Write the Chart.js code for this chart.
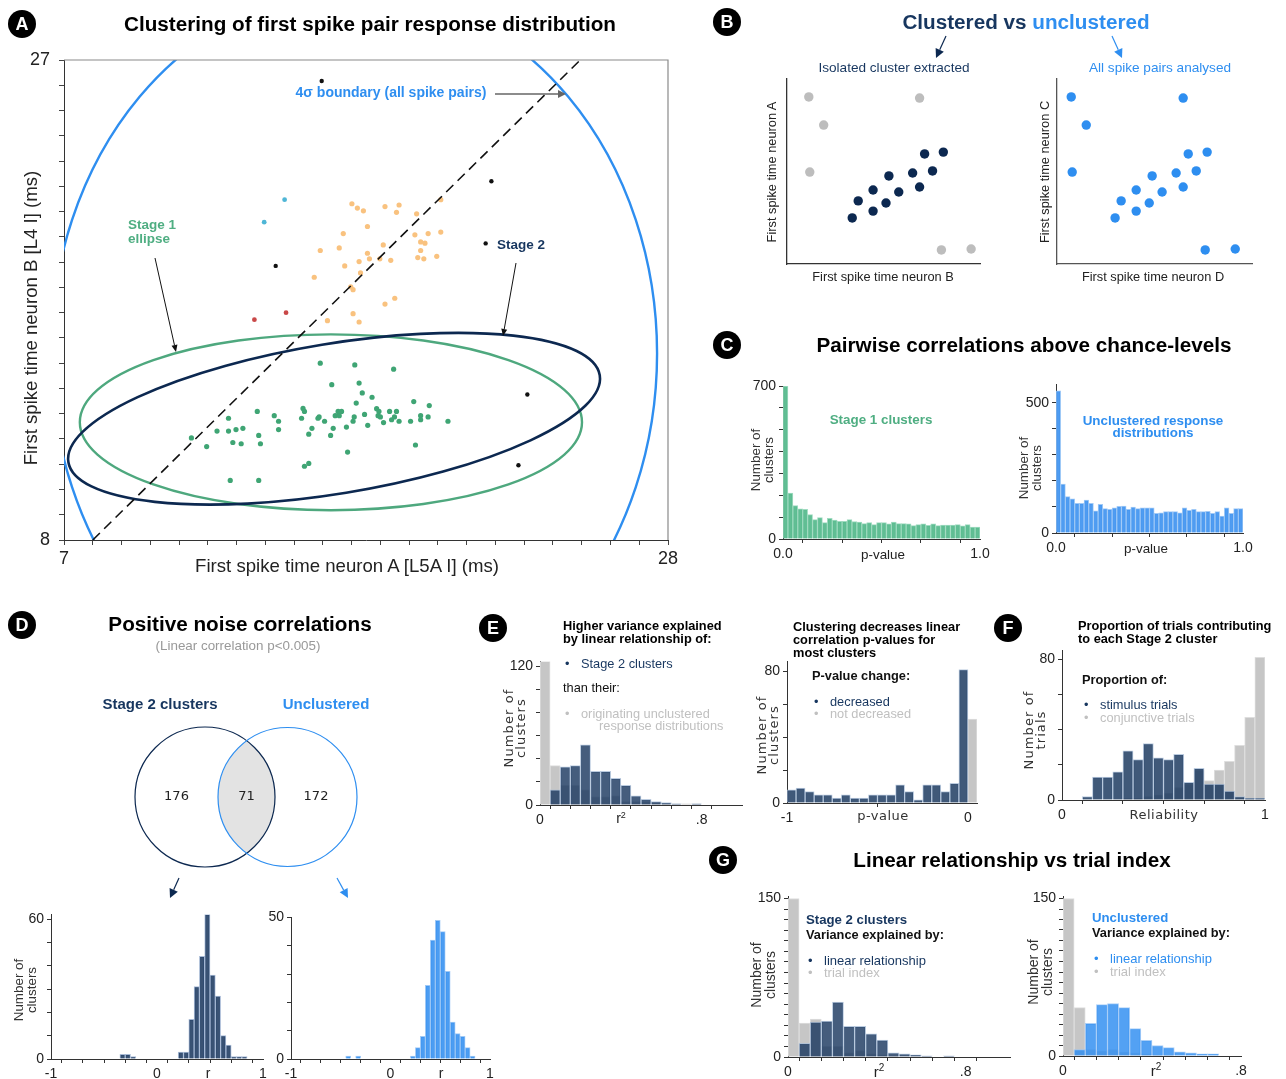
<!DOCTYPE html>
<html>
<head>
<meta charset="utf-8">
<script src="https://cdn.jsdelivr.net/npm/chart.js@4.4.1/dist/chart.umd.min.js"></script>
<style>
  body { margin: 0; background: #fff; }
  #stage { position: relative; width: 1286px; height: 1079px; overflow: hidden; font-family: "Liberation Sans", Arial, sans-serif; color: #222; }
  .t { position: absolute; white-space: nowrap; line-height: 1; z-index: 5; }
  .c { transform: translate(-50%, -50%); }
  .l { transform: translate(0, -50%); }
  .rot { transform: translate(-50%, -50%) rotate(-90deg); text-align: center; }
  .head { font-size: 20.7px; font-weight: bold; color: #000; }
  .sub { font-size: 12.8px; font-weight: bold; color: #000; line-height: 13px; }
  .letter { position: absolute; width: 28px; height: 28px; border-radius: 50%; background: #000; color: #fff;
            font-weight: bold; font-size: 18px; display: flex; align-items: center; justify-content: center;
            transform: translate(-50%, -50%); z-index: 5; }
  .dv { font-family: "DejaVu Sans", sans-serif; letter-spacing: 1.1px; font-size: 13px; color: #333; line-height: 12px; }
  canvas { position: absolute; }
  svg { position: absolute; left: 0; top: 0; z-index: 4; }
</style>
</head>
<body>
<div id="stage"></div>
<script>
// colours
const NAVY = "#0c2850"
const NAVY_TXT = "#17365f"
const BLUE = "#2e8ef0"
const GRAY_TXT = "#c0c0c0"

// ---------- Panel A data (first spike times, ms) ----------
const stage1Points = [[15.91,15.00],[17.11,14.93],[18.46,14.76],[16.31,14.15],[17.26,14.21],[17.37,13.82],[17.71,13.65],[19.16,13.48],[17.16,13.42],[19.70,13.32],[13.72,13.09],[15.31,13.21],[15.36,13.09],[16.53,13.09],[16.65,13.09],[17.87,13.20],[17.95,13.09],[18.32,13.09],[18.56,13.09],[14.31,12.92],[15.26,12.82],[15.83,12.82],[15.87,12.87],[16.43,12.92],[16.57,12.92],[17.45,12.97],[17.92,12.92],[18.00,12.87],[18.49,12.87],[19.40,12.92],[19.66,12.87],[12.72,12.82],[14.46,12.70],[16.06,12.70],[17.05,12.70],[17.09,12.87],[18.11,12.65],[18.39,12.76],[18.65,12.70],[19.05,12.70],[19.40,12.76],[20.35,12.70],[13.22,12.42],[12.98,12.37],[12.72,12.31],[12.32,12.31],[14.46,12.37],[15.62,12.42],[16.36,12.42],[16.82,12.47],[17.56,12.54],[11.43,12.04],[13.77,12.14],[15.51,12.19],[16.27,12.14],[11.96,11.70],[12.87,11.86],[13.16,11.81],[13.83,11.81],[19.22,11.76],[16.86,11.48],[15.36,10.92],[15.51,11.03],[12.78,10.36],[13.77,10.36]]
const otherClusterPoints = [[17.01,21.31],[17.20,21.14],[17.41,21.03],[18.16,21.20],[18.65,21.26],[18.56,20.97],[20.10,21.47],[19.26,20.91],[17.55,20.41],[16.71,20.13],[19.20,20.08],[19.66,20.13],[20.10,20.19],[19.40,19.80],[19.55,19.75],[18.10,19.68],[16.57,19.56],[15.91,19.46],[19.40,19.46],[17.55,19.35],[17.62,19.13],[17.26,19.02],[17.98,19.13],[18.36,19.07],[19.30,19.18],[19.51,19.13],[19.96,19.23],[16.76,18.85],[17.31,18.57],[15.70,18.40],[16.97,18.02],[17.05,17.91],[18.50,17.57],[18.16,17.34],[17.05,16.96],[16.16,16.68],[17.26,16.63]]
const outlierPoints = [[15.96,26.17],[21.86,22.20],[21.66,19.74],[14.36,18.85],[23.11,13.76],[22.80,10.96]]
const cyanPoints = [[14.67,21.47],[13.96,20.58]]
const redPoints = [[14.72,17.00],[13.62,16.72]]
const diagonal = [[8, 8], [24.95, 27]]
// ellipses: centre, radii (data units), rotation (deg on screen)
const boundaryEllipse = { cx: 17.08, cy: 15.38, rx: 10.54, ry: 14.37, rot: 0 }
const stage1Ellipse = { cx: 16.28, cy: 12.66, rx: 8.73, ry: 3.48, rot: 0 }
const stage2Ellipse = { cx: 16.39, cy: 12.8, rx: 9.36, ry: 2.97, rot: -9.3 }
const aTicksX = [7,8,9,10,11,12,13,14,15,16,17,18,19,20,21,22,23,24,25,26,27,28]
const aTicksY = [8,9,10,11,12,13,14,15,16,17,18,19,20,21,22,23,24,25,26,27]

// ---------- Panel B data ----------
const bOutX = [1.13, 1.90, 1.18, 6.87, 8.00, 9.54]
const bOutY = [9.03, 7.51, 4.97, 8.97, 0.76, 0.81]
const bClusterX = [3.38, 3.69, 4.46, 4.46, 5.13, 5.28, 5.79, 6.51, 6.87, 7.13, 7.54, 8.10]
const bClusterY = [2.49, 3.41, 2.86, 4.00, 3.30, 4.76, 3.89, 4.92, 4.16, 5.95, 5.03, 6.05]

// ---------- Panel C data (p-value histograms, 40 bins 0..1) ----------
const stage1PCounts = [700,210,153,138,136,112,89,98,75,95,86,81,81,89,80,77,70,75,66,75,75,69,77,70,70,69,61,66,69,63,69,61,64,64,64,66,60,66,55,54]
const unclusteredPCounts = [547,188,140,131,114,114,127,114,85,110,94,91,97,103,104,91,100,94,97,97,97,76,78,82,82,82,78,97,87,91,82,82,83,76,82,65,97,76,94,94]
const pTicks = [0, 0.2, 0.4, 0.6, 0.8, 1]
const pTickText = ["0.0", "", "", "", "", "1.0"]

// ---------- Panel D data ----------
const vennCounts = [176, 71, 172]
const stage2RCounts = [0,0,0,0,0,0,0,0,0,0,0,0,0,2,2,1,0,0,0,0,0,0,0,0,3,3,17,31,44,62,36,27,10,6,1,1,1,0,0,0]
const unclRCounts = [0,0,0,0,0,0,0,0,0,0,0,1,0,1,0,0,0,0,0,0,0,0,0,0,1,4,8,26,42,49,45,31,13,9,8,4,1,0,0,0]
const rTicks = [-1,-0.8,-0.6,-0.4,-0.2,0,0.2,0.4,0.6,0.8,1]
const rTickText = ["-1","","","","","0","","","","","1"]

// ---------- Panel E data ----------
const eStage2R2 = [0,13,33,34,52,29,29,23,17,8,5,3,2,1,0,1,0,0,0,0]
const eOrigR2 = [124,34,17,17,13,7,7,8,3,3,3,2,1,0,1,0,0,0,0,0]
const pChangeDecreased = [8,9,7,5,5,3,5,3,3,5,5,5,11,7,2,11,11,7,12,81]
const pChangeNotDecreased = [51]

// ---------- Panel F data ----------
const stimulusTrials = [0,0,2,13,13,16,28,23,32,24,23,26,10,18,9,9,5,2,1,1]
const conjunctiveTrials = [0,0,0,0,0,0,1,1,2,3,4,7,9,17,11,17,22,31,47,81]

// ---------- Panel G data ----------
const gStage2Linear = [0,13,33,34,52,29,29,22,16,4,3,2,1,0,1,0,0,0,0,0]
const gStage2Trial = [150,32,36,10,10,4,6,3,2,1,0,0,0,0,0,0,0,0,0,0]
const gUnclLinear = [0,6,31,49,50,46,26,15,10,8,4,3,2,2,0,0]
const gUnclTrial = [150,46,6,5,6,4,3,2,1,1,0,0,0,0,0,0]
const r2Ticks = [0,0.1,0.2,0.3,0.4,0.5,0.6,0.7,0.8]
const r2TickText = ["0","","","","","","","",".8"]

Chart.defaults.font.family = "'Liberation Sans', Arial, sans-serif"
Chart.defaults.color = "#222"

const stage = document.getElementById("stage")
const pairs = (a) => a.map(([x, y]) => ({ x, y }))
const zip = (xs, ys) => xs.map((x, i) => ({ x, y: ys[i] }))
const hist = (start, width, counts) => counts.map((c, i) => ({ x: start + width * (i + 0.5), y: c }))

// linear axis with explicit tick list and forced thickness
function axis(min, max, ticks, text, size, fontSize, extra) {
  return Object.assign({
    type: "linear",
    min,
    max,
    offset: false,
    grid: { display: true, drawOnChartArea: false, drawTicks: true, tickLength: 4, color: "#333" },
    border: { display: true, color: "#333", width: 1 },
    afterBuildTicks: (s) => { s.ticks = ticks.map((v) => ({ value: v })) },
    ticks: { autoSkip: false, maxRotation: 0, padding: 3, font: { size: fontSize }, color: "#222", callback: (v, i) => text[i] },
    afterFit: (s) => { if (s.isHorizontal()) s.height = size; else s.width = size },
  }, extra || {})
}

// place a canvas so the chart area lands on box [l, t, r, b]
function mount(box, m, config) {
  const c = document.createElement("canvas")
  const w = box[2] - box[0] + m[0] + m[2]
  const h = box[3] - box[1] + m[1] + m[3]
  c.width = w
  c.height = h
  c.style.cssText = `left:${box[0] - m[0]}px;top:${box[1] - m[1]}px;width:${w}px;height:${h}px`
  stage.appendChild(c)
  config.options = Object.assign({
    responsive: false,
    animation: false,
    devicePixelRatio: 1,
    events: [],
    layout: { padding: { left: 0, top: m[1], right: m[2], bottom: 0 } },
  }, config.options)
  config.options.plugins = Object.assign({ legend: { display: false }, tooltip: { enabled: false } }, config.options.plugins || {})
  return new Chart(c, config)
}

function bars(data, color, border) {
  return { type: "bar", data, backgroundColor: color, borderColor: border, borderWidth: 1, grouped: false,
           barPercentage: 1, categoryPercentage: 1, borderSkipped: "start" }
}

// ---------- Panel A ----------
const ellipsePlugin = {
  id: "ellipses",
  beforeDatasetsDraw(chart) {
    const { ctx, chartArea: a, scales: { x, y } } = chart
    const list = [[boundaryEllipse, BLUE, 2.4], [stage1Ellipse, "#4ea87e", 2.4], [stage2Ellipse, NAVY, 2.6]]
    ctx.save()
    ctx.beginPath()
    ctx.rect(a.left, a.top, a.width, a.height)
    ctx.clip()
    list.forEach(([e, color, lw]) => {
      const cx = x.getPixelForValue(e.cx)
      const cy = y.getPixelForValue(e.cy)
      const rx = Math.abs(x.getPixelForValue(e.cx + e.rx) - cx)
      const ry = Math.abs(y.getPixelForValue(e.cy + e.ry) - cy)
      ctx.beginPath()
      ctx.ellipse(cx, cy, rx, ry, (e.rot * Math.PI) / 180, 0, Math.PI * 2)
      ctx.strokeStyle = color
      ctx.lineWidth = lw
      ctx.stroke()
    })
    ctx.restore()
  },
  afterDraw(chart) {
    const { ctx, chartArea: a } = chart
    ctx.save()
    ctx.strokeStyle = "#8a8a8a"
    ctx.lineWidth = 1.2
    ctx.beginPath()
    ctx.moveTo(a.left, a.top)
    ctx.lineTo(a.right, a.top)
    ctx.lineTo(a.right, a.bottom)
    ctx.stroke()
    ctx.restore()
  },
}

const dot = (data, color, r) => ({ data: pairs(data), backgroundColor: color, borderWidth: 0, pointRadius: r })

const aGrid = { grid: { drawOnChartArea: false, tickLength: 5, color: "#444" } }
const aAxisX = axis(7, 28, aTicksX, aTicksX.map((v) => (v === 7 || v === 28 ? String(v) : "")), 32, 18, aGrid)
const aAxisY = axis(8, 27, aTicksY, aTicksY.map((v) => (v === 8 || v === 27 ? String(v) : "")), 60, 18, aGrid)
aAxisY.ticks.padding = 9

mount([64, 60, 668, 540], [60, 24, 22, 32], {
  type: "scatter",
  data: {
    datasets: [
      { type: "line", data: pairs(diagonal), borderColor: "#111", borderWidth: 1.6, borderDash: [10, 6], pointRadius: 0, fill: false },
      dot(outlierPoints, "#111", 2.2),
      dot(cyanPoints, "#4fb6d6", 2.4),
      dot(redPoints, "#c94848", 2.4),
      dot(otherClusterPoints, "#f9c27f", 2.6),
      dot(stage1Points, "#3fa574", 2.6),
    ],
  },
  options: { scales: { x: aAxisX, y: aAxisY } },
  plugins: [ellipsePlugin],
})

// ---------- Panel B ----------
function bPlot(box, xRange, outColor, clusterColor, axisColor) {
  const plain = (min, max) => ({ type: "linear", min, max, grid: { display: false }, ticks: { display: false },
    border: { display: true, color: axisColor, width: 1.3 }, afterFit: (s) => { if (s.isHorizontal()) s.height = 5; else s.width = 5 } })
  mount(box, [5, 6, 6, 5], {
    type: "scatter",
    data: {
      datasets: [
        { data: zip(bClusterX, bClusterY), backgroundColor: clusterColor, pointRadius: 4.7, borderWidth: 0 },
        { data: zip(bOutX, bOutY), backgroundColor: outColor, pointRadius: 4.7, borderWidth: 0 },
      ],
    },
    options: { scales: { x: plain(xRange[0], xRange[1]), y: plain(0, 10) } },
  })
}
bPlot([787, 79, 980, 264], [0, 10], "#bdbdbd", "#0c2850", "#333")
bPlot([1057, 79, 1252, 264], [0.4, 10.4], "#2e8ef0", "#2e8ef0", "#555")

// ---------- Panel C ----------
mount([783, 386, 980, 539], [42, 12, 16, 22], {
  data: { datasets: [bars(hist(0, 0.025, stage1PCounts), "rgba(84,184,139,0.92)", "rgba(150,215,185,0.9)")] },
  options: { scales: {
    x: axis(0, 1, pTicks, pTickText, 22, 14),
    y: axis(0, 700, [0,100,200,300,400,500,600,700], ["0","","","","","","","700"], 42, 14),
  } },
})
mount([1056, 384, 1243, 533], [42, 12, 16, 22], {
  data: { datasets: [bars(hist(0, 0.025, unclusteredPCounts), "rgba(60,145,240,0.9)", "rgba(150,195,245,0.9)")] },
  options: { scales: {
    x: axis(0, 1, pTicks, pTickText, 22, 14),
    y: axis(0, 573, [0,100,200,300,400,500], ["0","","","","","500"], 42, 14),
  } },
})

// ---------- Panel D ----------
const vennPlugin = {
  id: "venn",
  afterDatasetsDraw(chart) {
    const { ctx, scales: { x, y } } = chart
    const circles = chart.data.datasets[0].data.map((p) => ({
      cx: x.getPixelForValue(p.x), cy: y.getPixelForValue(p.y), r: Math.abs(x.getPixelForValue(p.x + p.r) - x.getPixelForValue(p.x)),
    }))
    const path = (c) => { ctx.beginPath(); ctx.arc(c.cx, c.cy, c.r, 0, Math.PI * 2) }
    ctx.save()
    path(circles[0]); ctx.clip()
    path(circles[1]); ctx.fillStyle = "#e3e3e3"; ctx.fill()
    ctx.restore()
    ctx.save()
    ctx.lineWidth = 1.2
    path(circles[0]); ctx.strokeStyle = NAVY; ctx.stroke()
    path(circles[1]); ctx.strokeStyle = BLUE; ctx.stroke()
    ctx.fillStyle = "#222"
    ctx.font = "13px 'DejaVu Sans', sans-serif"
    ctx.textAlign = "center"
    ctx.textBaseline = "middle"
    const c0 = circles[0], c1 = circles[1]
    ctx.fillText(vennCounts[0], (c0.cx - c0.r + c1.cx - c1.r) / 2, c0.cy)
    ctx.fillText(vennCounts[1], (c0.cx + c0.r + c1.cx - c1.r) / 2, c0.cy)
    ctx.fillText(vennCounts[2], (c0.cx + c0.r + c1.cx + c1.r) / 2, c0.cy)
    ctx.restore()
  },
}
mount([120, 715, 380, 880], [0, 0, 0, 0], {
  type: "scatter",
  data: { datasets: [{ data: [{ x: 85, y: 83, r: 70 }, { x: 167.5, y: 83, r: 69.5 }], pointRadius: 0 }] },
  options: { scales: { x: { type: "linear", min: 0, max: 260, display: false }, y: { type: "linear", min: 0, max: 165, display: false } } },
  plugins: [vennPlugin],
})

mount([51, 913, 263, 1059], [32, 10, 12, 20], {
  data: { datasets: [bars(hist(-1, 0.05, stage2RCounts), "rgba(22,52,92,0.85)", "rgba(160,180,210,0.9)")] },
  options: { scales: {
    x: axis(-1, 1, rTicks, rTickText, 20, 14),
    y: axis(0, 62, [0,10,20,30,40,50,60], ["0","","","","","","60"], 32, 14),
  } },
})
mount([291, 916, 490, 1059], [32, 10, 12, 20], {
  data: { datasets: [bars(hist(-1, 0.05, unclRCounts), "rgba(45,140,240,0.85)", "rgba(150,195,245,0.9)")] },
  options: { scales: {
    x: axis(-1, 1, rTicks, rTickText, 20, 14),
    y: axis(0, 50, [0,10,20,30,40,50], ["0","","","","","50"], 32, 14),
  } },
})

// ---------- Panel E ----------
mount([540, 660, 742, 805], [36, 10, 12, 20], {
  data: { datasets: [
    bars(hist(0, 0.05, eStage2R2), "rgba(22,52,92,0.8)", "rgba(170,190,215,0.8)"),
    bars(hist(0, 0.05, eOrigR2), "#c6c6c6", "#dedede"),
  ] },
  options: { scales: {
    x: axis(0, 1, r2Ticks, r2TickText, 20, 14),
    y: axis(0, 124, [0,20,40,60,80,100,120], ["0","","","","","","120"], 36, 14),
  } },
})
mount([787, 660, 977, 803], [32, 10, 12, 20], {
  data: { datasets: [
    bars(hist(-1, 0.05, pChangeDecreased), "rgba(22,52,92,0.82)", "rgba(170,190,215,0.8)"),
    bars(hist(0, 0.05, pChangeNotDecreased), "#c6c6c6", "#dedede"),
  ] },
  options: { scales: {
    x: axis(-1, 0.05, [-1, 0], ["-1", "0"], 20, 14),
    y: axis(0, 86, [0,20,40,60,80], ["0","","","","80"], 32, 14),
  } },
})

// ---------- Panel F ----------
mount([1062, 649, 1265, 800], [32, 10, 14, 20], {
  data: { datasets: [
    bars(hist(0, 0.05, stimulusTrials), "rgba(22,52,92,0.82)", "rgba(170,190,215,0.8)"),
    bars(hist(0, 0.05, conjunctiveTrials), "#c6c6c6", "#dedede"),
  ] },
  options: { scales: {
    x: axis(0, 1, [0,0.2,0.4,0.6,0.8,1], ["0","","","","","1"], 20, 14),
    y: axis(0, 85, [0,20,40,60,80], ["0","","","","80"], 32, 14),
  } },
})

// ---------- Panel G ----------
const gTicksY = [0,10,20,30,40,50,60,70,80,90,100,110,120,130,140,150]
const gTickTextY = gTicksY.map((v) => (v === 0 || v === 150 ? String(v) : ""))
mount([788, 895, 1010, 1057], [36, 10, 12, 20], {
  data: { datasets: [
    bars(hist(0, 0.05, gStage2Linear), "rgba(22,52,92,0.8)", "rgba(170,190,215,0.8)"),
    bars(hist(0, 0.05, gStage2Trial), "#c6c6c6", "#dedede"),
  ] },
  options: { scales: {
    x: axis(0, 1, r2Ticks, r2TickText, 20, 14),
    y: axis(0, 152, gTicksY, gTickTextY, 36, 14),
  } },
})
mount([1063, 895, 1241, 1056], [36, 10, 14, 20], {
  data: { datasets: [
    bars(hist(0, 0.05, gUnclLinear), "rgba(45,140,240,0.82)", "rgba(150,195,245,0.8)"),
    bars(hist(0, 0.05, gUnclTrial), "#c6c6c6", "#dedede"),
  ] },
  options: { scales: {
    x: axis(0, 0.8, r2Ticks, r2TickText, 20, 14),
    y: axis(0, 152, gTicksY, gTickTextY, 36, 14),
  } },
})

// ---------- text ----------
function put(x, y, html, cls, style) {
  const d = document.createElement("div")
  d.className = "t " + cls
  d.style.cssText = `left:${x}px;top:${y}px;` + (style || "")
  d.innerHTML = html
  stage.appendChild(d)
}
// bullet + text legend line
function bullet(x, y, html, color, size, indent) {
  put(x + 2, y, "•", "l", `font-size:${size}px;color:${color}`)
  put(x + (indent || 18), y, html, "l", `font-size:${size}px;color:${color}`)
}
;[["A", 22, 24], ["B", 727, 22], ["C", 727, 345], ["D", 22, 625], ["E", 493, 628], ["F", 1008, 628], ["G", 723, 860]].forEach(([s, x, y]) => {
  const d = document.createElement("div")
  d.className = "letter"
  d.style.cssText = `left:${x}px;top:${y}px`
  d.textContent = s
  stage.appendChild(d)
})

// A
put(370, 24, "Clustering of first spike pair response distribution", "c head")
put(347, 566, "First spike time neuron A [L5A I] (ms)", "c", "font-size:18.6px")
put(31, 318, "First spike time neuron B [L4 I] (ms)", "rot", "font-size:18.6px")
put(391, 92, "4σ boundary (all spike pairs)", "c", `font-size:14px;font-weight:bold;color:${BLUE}`)
put(128, 232, "Stage 1<br>ellipse", "l", `font-size:13.5px;font-weight:bold;color:#4fae82;line-height:14px`)
put(497, 245, "Stage 2", "l", `font-size:13.5px;font-weight:bold;color:${NAVY_TXT}`)

// B
put(1026, 22, `<span style="color:${NAVY_TXT}">Clustered vs </span><span style="color:${BLUE}">unclustered</span>`, "c", "font-size:20.7px;font-weight:bold")
put(894, 68, "Isolated cluster extracted", "c", `font-size:13.6px;color:${NAVY_TXT}`)
put(1160, 68, "All spike pairs analysed", "c", `font-size:13.6px;color:${BLUE}`)
put(772, 172, "First spike time neuron A", "rot", "font-size:12.8px")
put(1045, 172, "First spike time neuron C", "rot", "font-size:12.8px")
put(883, 277, "First spike time neuron B", "c", "font-size:12.8px")
put(1153, 277, "First spike time neuron D", "c", "font-size:12.8px")

// C
put(1024, 345, "Pairwise correlations above chance-levels", "c head")
put(881, 420, "Stage 1 clusters", "c", `font-size:13.4px;font-weight:bold;color:#4fae82`)
put(1153, 427, "Unclustered response<br>distributions", "c", `font-size:13.4px;font-weight:bold;color:${BLUE};text-align:center;line-height:12px`)
put(762, 460, "Number of<br>clusters", "rot", "font-size:13.4px;line-height:13px;color:#333")
put(1030, 468, "Number of<br>clusters", "rot", "font-size:13.4px;line-height:13px;color:#333")
put(883, 555, "p-value", "c", "font-size:13.4px")
put(1146, 549, "p-value", "c", "font-size:13.4px")

// D
put(240, 624, "Positive noise correlations", "c head")
put(238, 646, "(Linear correlation p&lt;0.005)", "c", "font-size:13.4px;color:#999")
put(160, 703, "Stage 2 clusters", "c", `font-size:15px;font-weight:bold;color:${NAVY_TXT}`)
put(326, 703, "Unclustered", "c", `font-size:15px;font-weight:bold;color:${BLUE}`)
put(25, 990, "Number of<br>clusters", "rot", "font-size:13.4px;line-height:13px;color:#333")
put(208, 1073, "r", "c", "font-size:14px")
put(441, 1073, "r", "c", "font-size:14px")

// E
put(563, 632, "Higher variance explained<br>by linear relationship of:", "l sub")
bullet(563, 664, "Stage 2 clusters", NAVY_TXT, 12.8)
put(563, 688, "than their:", "l", "font-size:12.8px;color:#111")
bullet(563, 714, "originating unclustered", GRAY_TXT, 12.8)
put(599, 726, "response distributions", "l", `font-size:12.8px;color:${GRAY_TXT}`)
put(515, 728, "Number of<br>clusters", "rot dv")
put(621, 818, "r<sup style='font-size:9px'>2</sup>", "c", "font-size:14px")
put(793, 639, "Clustering decreases linear<br>correlation p-values for<br>most clusters", "l sub")
put(812, 676, "P-value change:", "l", "font-size:12.8px;font-weight:bold;color:#111")
bullet(812, 702, "decreased", NAVY_TXT, 12.8)
bullet(812, 714, "not decreased", GRAY_TXT, 12.8)
put(768, 735, "Number of<br>clusters", "rot dv")
put(883, 816, "p-value", "c dv", "font-size:13px;letter-spacing:0.5px")

// F
put(1078, 632, "Proportion of trials contributing<br>to each Stage 2 cluster", "l sub")
put(1082, 680, "Proportion of:", "l", "font-size:12.8px;font-weight:bold;color:#111")
bullet(1082, 705, "stimulus trials", NAVY_TXT, 12.8)
bullet(1082, 718, "conjunctive trials", GRAY_TXT, 12.8)
put(1035, 730, "Number of<br>trials", "rot dv")
put(1164, 815, "Reliability", "c dv", "font-size:13px;letter-spacing:0.5px")

// G
put(1012, 860, "Linear relationship vs trial index", "c head")
put(806, 920, "Stage 2 clusters", "l", `font-size:13.2px;font-weight:bold;color:${NAVY_TXT}`)
put(806, 935, "Variance explained by:", "l", "font-size:12.8px;font-weight:bold;color:#111")
bullet(806, 960, "linear relationship", NAVY_TXT, 13)
bullet(806, 972, "trial index", GRAY_TXT, 13)
put(763, 975, "Number of<br>clusters", "rot", "font-size:14px;line-height:14px;color:#333")
put(879, 1071, "r<sup style='font-size:10px'>2</sup>", "c", "font-size:15px")
put(1092, 918, "Unclustered", "l", `font-size:13.2px;font-weight:bold;color:${BLUE}`)
put(1092, 933, "Variance explained by:", "l", "font-size:12.8px;font-weight:bold;color:#111")
bullet(1092, 958, "linear relationship", BLUE, 13)
bullet(1092, 971, "trial index", GRAY_TXT, 13)
put(1040, 972, "Number of<br>clusters", "rot", "font-size:14px;line-height:14px;color:#333")
put(1156, 1070, "r<sup style='font-size:10px'>2</sup>", "c", "font-size:15px")

// ---------- arrows ----------
function arrow(x1, y1, x2, y2, color, w, hl, hw) {
  const dx = x2 - x1, dy = y2 - y1, L = Math.hypot(dx, dy), ux = dx / L, uy = dy / L
  const bx = x2 - ux * hl, by = y2 - uy * hl
  return `<line x1="${x1}" y1="${y1}" x2="${bx}" y2="${by}" stroke="${color}" stroke-width="${w}"/>` +
    `<polygon points="${x2},${y2} ${bx - uy * hw},${by + ux * hw} ${bx + uy * hw},${by - ux * hw}" fill="${color}"/>`
}
const svg = document.createElementNS("http://www.w3.org/2000/svg", "svg")
svg.setAttribute("width", 1286)
svg.setAttribute("height", 1079)
svg.innerHTML = [
  arrow(495, 94, 566, 94, "#666", 1.5, 8, 4),
  arrow(155, 258, 176, 352, "#111", 1, 7, 3),
  arrow(516, 263, 503, 336, "#111", 1, 7, 3),
  arrow(946, 36, 936, 58, NAVY, 1.2, 9, 4.5),
  arrow(1112, 36, 1122, 58, BLUE, 1.2, 9, 4.5),
  arrow(179, 878, 170, 898, NAVY, 1.2, 9, 4.5),
  arrow(337, 878, 348, 898, BLUE, 1.2, 9, 4.5),
].join("")
stage.appendChild(svg)
</script>
</body>
</html>
